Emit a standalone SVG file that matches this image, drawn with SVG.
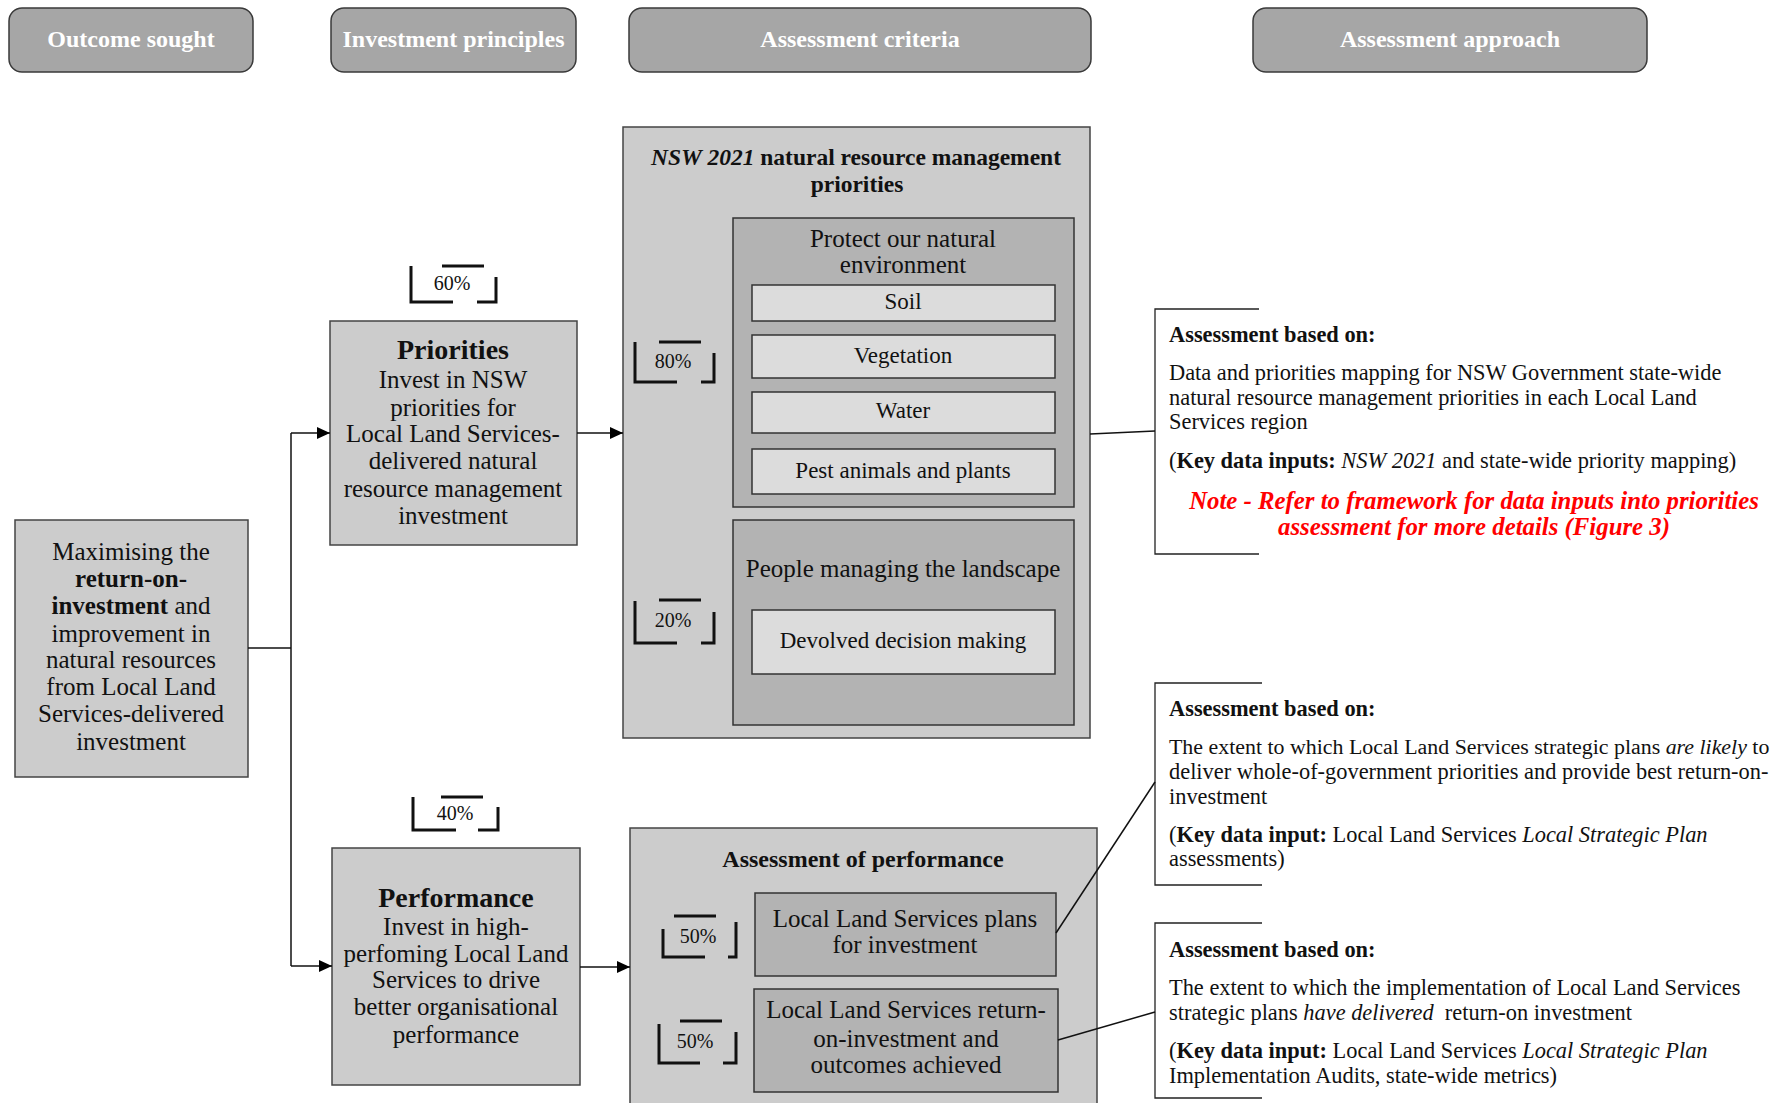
<svg xmlns="http://www.w3.org/2000/svg" width="1789" height="1103" viewBox="0 0 1789 1103">
<style>
text{font-family:"Liberation Serif","Times New Roman",serif;fill:#111}
.hdr rect{fill:#a6a6a6;stroke:#3a3a3a;stroke-width:1.5}
.hdr text{font-size:24px;font-weight:bold;fill:#fff;text-anchor:middle}
.l1{fill:#cccccc;stroke:#444;stroke-width:1.5}
.l2{fill:#b3b3b3;stroke:#333;stroke-width:1.5}
.l3{fill:#dcdcdc;stroke:#333;stroke-width:1.5}
.c{text-anchor:middle}
.bx{font-size:25px}
.sb{font-size:23px}
.ttl{font-size:28px;font-weight:bold}
.pct{font-size:20px;text-anchor:middle}
.br{fill:none;stroke:#111;stroke-width:3}
.ob{fill:none;stroke:#222;stroke-width:1.3}
.sm{font-size:22.4px}
.b{font-weight:bold}
.i{font-style:italic}
.note{font-size:24.8px;font-weight:bold;font-style:italic;fill:#ff0000;text-anchor:middle}
.cn{fill:none;stroke:#111;stroke-width:1.5}
</style>
<defs>
<marker id="ah" markerUnits="userSpaceOnUse" markerWidth="13" markerHeight="12" refX="13" refY="6" orient="auto">
<path d="M0,0 L13,6 L0,12 z" fill="#000"/>
</marker>
</defs>

<g id="headers" class="hdr">
<g id="h-outcome"><rect x="9" y="8" width="244" height="64" rx="13"/><text x="131" y="47">Outcome sought</text></g>
<g id="h-principles"><rect x="331" y="8" width="245" height="64" rx="13"/><text x="453.5" y="47">Investment principles</text></g>
<g id="h-criteria"><rect x="629" y="8" width="462" height="64" rx="13"/><text x="860" y="47">Assessment criteria</text></g>
<g id="h-approach"><rect x="1253" y="8" width="394" height="64" rx="13"/><text x="1450" y="47">Assessment approach</text></g>
</g>

<g id="outcome">
<rect class="l1" x="15" y="520" width="233" height="257"/>
<text class="bx c" x="131" y="560">Maximising the</text>
<text class="bx c b" x="131" y="587">return-on-</text>
<text class="bx c" x="131" y="614"><tspan class="b">investment</tspan> and</text>
<text class="bx c" x="131" y="642">improvement in</text>
<text class="bx c" x="131" y="668">natural resources</text>
<text class="bx c" x="131" y="695">from Local Land</text>
<text class="bx c" x="131" y="722">Services-delivered</text>
<text class="bx c" x="131" y="750">investment</text>
</g>

<g id="priorities">
<rect class="l1" x="330" y="321" width="247" height="224"/>
<text class="ttl c" x="453" y="359">Priorities</text>
<text class="bx c" x="453" y="388">Invest in NSW</text>
<text class="bx c" x="453" y="416">priorities for</text>
<text class="bx c" x="453" y="442">Local Land Services-</text>
<text class="bx c" x="453" y="469">delivered natural</text>
<text class="bx c" x="453" y="497">resource management</text>
<text class="bx c" x="453" y="524">investment</text>
</g>

<g id="pct-60">
<path class="br" d="M411,266 V302 H453 M442,266 H484 M496,277 V302 H477"/>
<text class="pct" x="452" y="290">60%</text>
</g>

<g id="performance">
<rect class="l1" x="332" y="848" width="248" height="237"/>
<text class="ttl c" x="456" y="907">Performance</text>
<text class="bx c" x="456" y="935">Invest in high-</text>
<text class="bx c" x="456" y="962">perfoming Local Land</text>
<text class="bx c" x="456" y="988">Services to drive</text>
<text class="bx c" x="456" y="1015">better organisational</text>
<text class="bx c" x="456" y="1043">performance</text>
</g>

<g id="pct-40">
<path class="br" d="M413,797 V830 H456 M441,797 H483 M498,807 V830 H478"/>
<text class="pct" x="455" y="820">40%</text>
</g>

<g id="nsw2021">
<rect class="l1" x="623" y="127" width="467" height="611"/>
<text class="c b" x="856" y="165" style="font-size:23.5px"><tspan class="i">NSW 2021</tspan> natural resource management</text>
<text class="c b" x="857" y="192" style="font-size:23.5px">priorities</text>
</g>

<g id="protect">
<rect class="l2" x="733" y="218" width="341" height="289"/>
<text class="bx c" x="903" y="247">Protect our natural</text>
<text class="bx c" x="903" y="273">environment</text>
</g>
<g id="soil"><rect class="l3" x="752" y="285" width="303" height="36"/><text class="sb c" x="903" y="309">Soil</text></g>
<g id="vegetation"><rect class="l3" x="752" y="335" width="303" height="43"/><text class="sb c" x="903" y="363">Vegetation</text></g>
<g id="water"><rect class="l3" x="752" y="392" width="303" height="41"/><text class="sb c" x="903" y="418">Water</text></g>
<g id="pest"><rect class="l3" x="752" y="449" width="303" height="45"/><text class="sb c" x="903" y="478">Pest animals and plants</text></g>

<g id="pct-80">
<path class="br" d="M635,342 V382 H677 M659,342 H701 M714,353 V382 H701"/>
<text class="pct" x="673" y="368">80%</text>
</g>

<g id="people">
<rect class="l2" x="733" y="520" width="341" height="205"/>
<text class="bx c" x="903" y="577">People managing the landscape</text>
</g>
<g id="devolved"><rect class="l3" x="752" y="610" width="303" height="64"/><text class="sb c" x="903" y="648">Devolved decision making</text></g>

<g id="pct-20">
<path class="br" d="M635,601 V643 H677 M659,600 H701 M714,612 V643 H701"/>
<text class="pct" x="673" y="627">20%</text>
</g>

<g id="assess-perf">
<rect class="l1" x="630" y="828" width="467" height="285"/>
<text class="c b" x="863" y="867" style="font-size:24px">Assessment of performance</text>
</g>
<g id="plans">
<rect class="l2" x="755" y="893" width="301" height="83"/>
<text class="bx c" x="905" y="927">Local Land Services plans</text>
<text class="bx c" x="905" y="953">for investment</text>
</g>
<g id="roi">
<rect class="l2" x="754" y="989" width="304" height="103"/>
<text class="bx c" x="906" y="1018">Local Land Services return-</text>
<text class="bx c" x="906" y="1047">on-investment and</text>
<text class="bx c" x="906" y="1073">outcomes achieved</text>
</g>

<g id="pct-50a">
<path class="br" d="M663,929 V957 H705 M674,916 H716 M736,922 V957 H728"/>
<text class="pct" x="698" y="943">50%</text>
</g>
<g id="pct-50b">
<path class="br" d="M659,1024 V1063 H700 M680,1021 H722 M736,1032 V1063 H723"/>
<text class="pct" x="695" y="1048">50%</text>
</g>

<g id="approach-1">
<path class="ob" d="M1259,309 H1155 V554 H1259"/>
<text class="sm b" x="1169" y="342">Assessment based on:</text>
<text class="sm" x="1169" y="380">Data and priorities mapping for NSW Government state-wide</text>
<text class="sm" x="1169" y="405">natural resource management priorities in each Local Land</text>
<text class="sm" x="1169" y="429">Services region</text>
<text class="sm" x="1169" y="468">(<tspan class="b">Key data inputs:</tspan> <tspan class="i">NSW 2021</tspan> and state-wide priority mapping)</text>
<text class="note" x="1474" y="509">Note - Refer to framework for data inputs into priorities</text>
<text class="note" x="1474" y="535">assessment for more details (Figure 3)</text>
</g>

<g id="approach-2">
<path class="ob" d="M1262,683 H1155 V885 H1262"/>
<text class="sm b" x="1169" y="716">Assessment based on:</text>
<text class="sm" x="1169" y="754" style="font-size:21.9px">The extent to which Local Land Services strategic plans <tspan class="i">are likely</tspan> to</text>
<text class="sm" x="1169" y="779">deliver whole-of-government priorities and provide best return-on-</text>
<text class="sm" x="1169" y="804">investment</text>
<text class="sm" x="1169" y="842">(<tspan class="b">Key data input:</tspan> Local Land Services <tspan class="i">Local Strategic Plan</tspan></text>
<text class="sm" x="1169" y="866">assessments)</text>
</g>

<g id="approach-3">
<path class="ob" d="M1262,923 H1155 V1098 H1262"/>
<text class="sm b" x="1169" y="957">Assessment based on:</text>
<text class="sm" x="1169" y="995">The extent to which the implementation of Local Land Services</text>
<text class="sm" x="1169" y="1020" xml:space="preserve">strategic plans <tspan class="i">have delivered</tspan>  return-on investment</text>
<text class="sm" x="1169" y="1058">(<tspan class="b">Key data input:</tspan> Local Land Services <tspan class="i">Local Strategic Plan</tspan></text>
<text class="sm" x="1169" y="1083">Implementation Audits, state-wide metrics)</text>
</g>

<g id="connectors">
<path class="cn" d="M248,648 H291"/>
<path class="cn" d="M291,433 V966"/>
<path class="cn" d="M291,433 H330" marker-end="url(#ah)"/>
<path class="cn" d="M291,966 H332" marker-end="url(#ah)"/>
<path class="cn" d="M577,433 H623" marker-end="url(#ah)"/>
<path class="cn" d="M580,967 H630" marker-end="url(#ah)"/>
<path class="cn" d="M1090,434 L1155,431"/>
<path class="cn" d="M1056,933 L1155,782"/>
<path class="cn" d="M1058,1040 L1155,1012"/>
</g>
</svg>
